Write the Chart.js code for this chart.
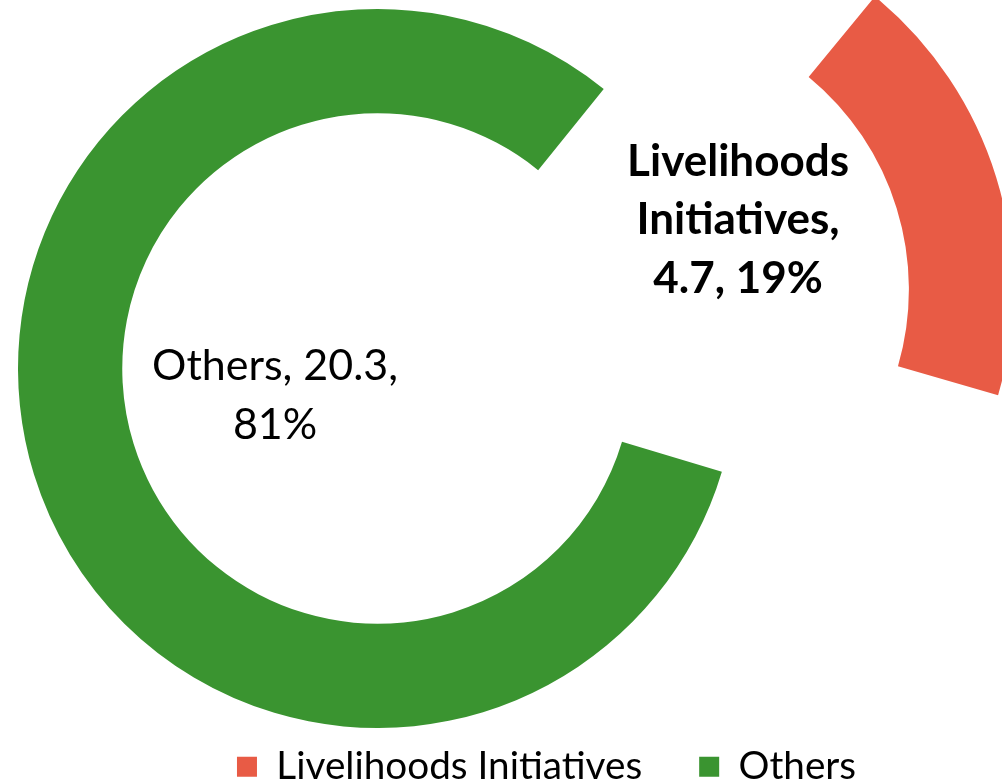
<!DOCTYPE html>
<html><head><meta charset="utf-8">
<script src="https://cdn.jsdelivr.net/npm/chart.js@4.4.1/dist/chart.umd.min.js"></script>
<style>
html,body{margin:0;padding:0;background:#fff;overflow:hidden;}
#frame{position:relative;width:1002px;height:781px;overflow:hidden;background:#fff;}
#box{position:absolute;left:0;top:0;}
</style></head><body>
<div id="frame"><div id="box"><canvas id="c"></canvas></div></div>
<script>
// ---- data ----
const categories = ['Livelihoods Initiatives', 'Others'];
const values = [4.7, 20.3];
const sliceColors = ['#E85B45', '#3A9430'];
const explode = [1072, 0];

// ---- styling / layout ----
const FAMILY = 'Lato, "Open Sans", sans-serif';
function fitSize(text, weight, target) {
  const c = document.createElement('canvas').getContext('2d');
  c.font = weight + ' 100px ' + FAMILY;
  return 100 * target / c.measureText(text).width;
}
const legendSize = fitSize(categories[0], 'normal', 366);
const labelSize = fitSize('Others, 20.3,', 'normal', 246);
const boldSize = fitSize('Livelihoods', 'bold', 222);

const legendPad = 57;
const centerY = 368.5, legendMidY = 766.5;
const W = 1093, rightReserve = 338;
const H = Math.round(legendMidY + 10 + legendSize / 2);
const areaBottom = H - legendSize - legendPad - 10;
const padTop = 2 * centerY - areaBottom;

const box = document.getElementById('box');
box.style.width = W + 'px';
box.style.height = H + 'px';

const shiftArea = {
  id: 'shiftArea',
  afterLayout(chart) {
    const a = chart.chartArea;
    a.right -= rightReserve;
    a.width = a.right - a.left;
  }
};

// label placement relative to the ring centre, in units of outer radius
const labelPlace = [
  {dx: 1.003, dy: -0.5355, bold: true},
  {dx: -0.285, dy: 0.033, bold: false}
];
const lineGap = 58.3;
const wrapWidth = 258;

function wrap(ctx, text, maxW) {
  const words = text.split(' ');
  const lines = [];
  let cur = '';
  words.forEach(w => {
    const test = cur ? cur + ' ' + w : w;
    if (cur && ctx.measureText(test).width > maxW) { lines.push(cur); cur = w; }
    else cur = test;
  });
  if (cur) lines.push(cur);
  return lines;
}

const sliceLabels = {
  id: 'sliceLabels',
  afterDatasetsDraw(chart) {
    const ctx = chart.ctx;
    const meta = chart.getDatasetMeta(0);
    const total = values.reduce((a, b) => a + b, 0);
    meta.data.forEach((arc, i) => {
      const p = labelPlace[i];
      const R = arc.outerRadius;
      const pct = Math.round(values[i] / total * 100);
      const text = categories[i] + ', ' + values[i] + ', ' + pct + '%';
      ctx.save();
      ctx.font = (p.bold ? 'bold ' + boldSize : 'normal ' + labelSize) + 'px ' + FAMILY;
      ctx.fillStyle = '#000';
      ctx.textAlign = 'center';
      ctx.textBaseline = 'alphabetic';
      const lines = wrap(ctx, text, wrapWidth);
      const x = arc.x + p.dx * R;
      const y0 = arc.y + p.dy * R;
      lines.forEach((ln, k) => ctx.fillText(ln, x, y0 + k * lineGap));
      ctx.restore();
    });
  }
};

new Chart(document.getElementById('c'), {
  type: 'doughnut',
  data: {
    labels: categories,
    datasets: [{
      data: values,
      backgroundColor: sliceColors,
      borderWidth: 0,
      offset: explode,
      hoverOffset: 0
    }]
  },
  options: {
    responsive: true,
    maintainAspectRatio: false,
    animation: false,
    events: [],
    rotation: 39,
    cutout: '71%',
    radius: 359.5,
    layout: {padding: {top: padTop, left: 0, right: 0, bottom: 0}},
    plugins: {
      tooltip: {enabled: false},
      legend: {
        position: 'bottom',
        align: 'center',
        labels: {
          boxWidth: 20,
          boxHeight: 20,
          padding: legendPad,
          color: '#000',
          font: {family: FAMILY, size: legendSize}
        }
      }
    }
  },
  plugins: [shiftArea, sliceLabels]
});
</script>
</body></html>
